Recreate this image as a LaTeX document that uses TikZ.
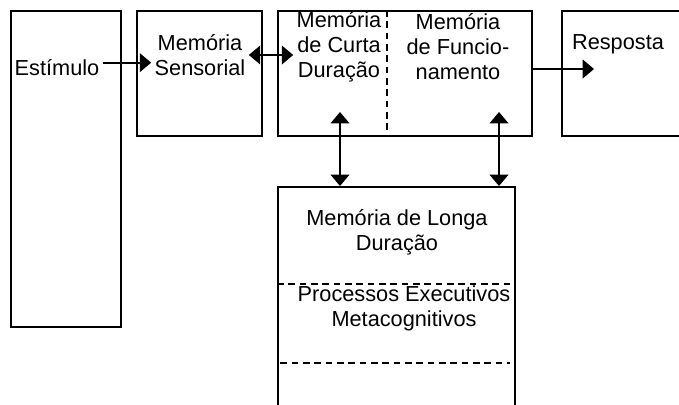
\documentclass[tikz,border=0pt]{standalone}
\usepackage{fontspec}
\setmainfont{Liberation Sans}
\usetikzlibrary{positioning,arrows.meta}

\begin{document}
\begin{tikzpicture}[x=0.75pt,y=-0.75pt,line width=1.3pt,>={Triangle[length=8.5pt,width=14pt]},
		box/.style={draw, rectangle, anchor=north west, inner sep=0pt},
		txt/.style={align=center, inner sep=2pt, font=\fontsize{16.3}{18.75}\selectfont},
		sep/.style={line width=0.9pt, dash pattern=on 5pt off 3.5pt}]
		\useasboundingbox (0,0) rectangle (679,404);
		
		\node[box, minimum width=82.5pt, minimum height=237pt] (stimbox) at (10,10) {};
		\node[box, minimum width=93.75pt, minimum height=93.75pt] (sensbox) at (136,10) {};
		\node[box, minimum width=190.5pt, minimum height=93.75pt] (curtabox) at (277,10) {};
		\node[box, minimum width=104.25pt, minimum height=93.75pt] (respbox) at (561,10) {};
		\node[box, minimum width=177.75pt, minimum height=180pt] (longbox) at (277,186) {};
		
		\node[txt] (stim) at (57,68) {Estímulo};
		\node[txt] (sens) at (200,55) {Memória\\Sensorial};
		\node[txt] (cs) at (339,47) {Memória\\de Curta\\Duração};
		\node[txt] (fs) at (458,47) {Memória\\de Funcio-\\namento};
		\node[txt] (resp) at (618,44) {Resposta};
		\node[txt] (ld) at (397,232) {Memória de Longa\\Duração};
		\node[txt] (pe) at (404,308) {Processos Executivos\\Metacognitivos};
		
		\coordinate (a1) at (340,112);
		\coordinate (a2) at (499,112);
		\coordinate (rtip) at (594,69);
		
		\draw[sep] ([xshift=82.5pt]curtabox.north west) -- ([xshift=82.5pt]curtabox.south west);
		\draw[sep] ([yshift=-73.5pt]longbox.north west) -- ([yshift=-73.5pt]longbox.north east);
		\draw[sep] ([xshift=2.5pt,yshift=-132.75pt]longbox.north west) -- ([xshift=-4.5pt,yshift=-132.75pt]longbox.north east);
		
		\draw[->] ([yshift=4pt]stim.east) -- ([yshift=4pt]stim.east -| sens.west);
		\draw[<->] (sens.east) -- (sens.east -| cs.west);
		\draw[->] (curtabox.east |- rtip) -- (rtip);
		\draw[<->] (a1) -- (a1 |- longbox.north);
		\draw[<->] (a2) -- (a2 |- longbox.north);
		
\end{tikzpicture}
\end{document}
